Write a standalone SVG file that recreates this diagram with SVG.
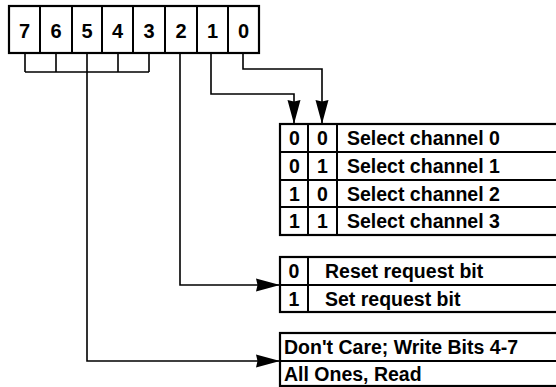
<svg xmlns="http://www.w3.org/2000/svg" width="556" height="387" viewBox="0 0 556 387">
  <style>
    .box { fill: #ffffff; stroke: #000000; stroke-width: 2.2; }
    .grid { stroke: #000000; stroke-width: 2; fill: none; }
    .wire { stroke: #000000; stroke-width: 1.6; fill: none; }
    .big { font-family: "Liberation Sans", Arial, Helvetica, sans-serif; font-weight: bold; font-size: 20px; fill: #000000; text-anchor: middle; }
    .cell { font-family: "Liberation Sans", Arial, Helvetica, sans-serif; font-weight: bold; font-size: 19.5px; fill: #000000; text-anchor: middle; }
    .lbl { font-family: "Liberation Sans", Arial, Helvetica, sans-serif; font-weight: bold; font-size: 19.5px; fill: #000000; }
  </style>
  <defs>
    <marker id="arrow" markerUnits="userSpaceOnUse" markerWidth="24" markerHeight="14" refX="24" refY="7" orient="auto">
      <path d="M0,0.5 L24,7 L0,13.5 L1.5,7 Z" fill="#000000"/>
    </marker>
  </defs>
  <rect width="556" height="387" fill="#ffffff"/>

  <g id="register">
    <rect class="box" x="9" y="6" width="250" height="47"/>
    <path class="grid" d="M40,6V53 M72,6V53 M102,6V53 M133,6V53 M165,6V53 M197,6V53 M228,6V53"/>
    <text class="big" x="24.5" y="38">7</text>
    <text class="big" x="56" y="38">6</text>
    <text class="big" x="87" y="38">5</text>
    <text class="big" x="117.5" y="38">4</text>
    <text class="big" x="149" y="38">3</text>
    <text class="big" x="181" y="38">2</text>
    <text class="big" x="212.5" y="38">1</text>
    <text class="big" x="243.5" y="38">0</text>
  </g>

  <g id="channel-table">
    <rect class="box" x="280" y="124" width="290" height="111"/>
    <path class="grid" d="M280,152H556 M280,180H556 M280,207H556 M308,124V235 M337,124V235"/>
    <text class="cell" x="294.5" y="145">0</text>
    <text class="cell" x="322.5" y="145">0</text>
    <text class="lbl" x="347" y="145">Select channel 0</text>
    <text class="cell" x="294.5" y="173">0</text>
    <text class="cell" x="322.5" y="173">1</text>
    <text class="lbl" x="347" y="173">Select channel 1</text>
    <text class="cell" x="294.5" y="200.5">1</text>
    <text class="cell" x="322.5" y="200.5">0</text>
    <text class="lbl" x="347" y="200.5">Select channel 2</text>
    <text class="cell" x="294.5" y="228">1</text>
    <text class="cell" x="322.5" y="228">1</text>
    <text class="lbl" x="347" y="228">Select channel 3</text>
  </g>

  <g id="request-table">
    <rect class="box" x="280" y="257" width="290" height="55"/>
    <path class="grid" d="M280,285H556 M308,257V312"/>
    <text class="cell" x="294" y="278">0</text>
    <text class="lbl" x="325" y="278">Reset request bit</text>
    <text class="cell" x="294" y="305.5">1</text>
    <text class="lbl" x="325" y="305.5">Set request bit</text>
  </g>

  <g id="mode-table">
    <rect class="box" x="280" y="333" width="290" height="53"/>
    <path class="grid" d="M280,361H556"/>
    <text class="lbl" x="284" y="354">Don't Care; Write Bits 4-7</text>
    <text class="lbl" x="284" y="380.5">All Ones, Read</text>
  </g>

  <g id="connectors">
    <path class="wire" d="M25,53V72 M56,53V72 M118,53V72 M149,53V72 M25,72H149"/>
    <path class="wire" d="M87,53V361H280" marker-end="url(#arrow)"/>
    <path class="wire" d="M180,53V285H280" marker-end="url(#arrow)"/>
    <path class="wire" d="M211,53V94H294V124" marker-end="url(#arrow)"/>
    <path class="wire" d="M243,53V69H322V124" marker-end="url(#arrow)"/>
  </g>
</svg>
